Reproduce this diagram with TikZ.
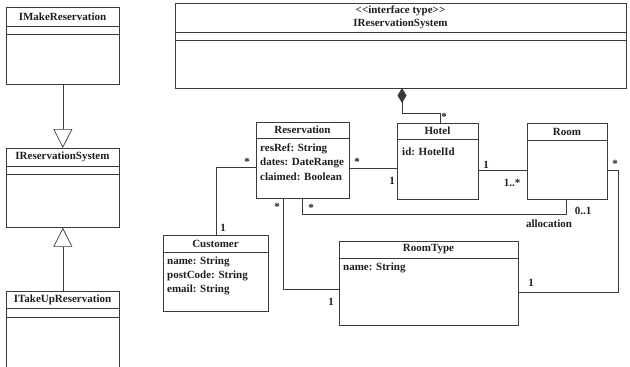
\documentclass[tikz,border=0pt]{standalone}
\usepackage{fontspec}
\setmainfont{Liberation Serif}
\usetikzlibrary{arrows.meta}
\definecolor{linec}{HTML}{3A3A3A}
\definecolor{textc}{HTML}{1E1E1E}
\newcommand{\umlfont}{\fontsize{11}{12}\selectfont}
\begin{document}
\begin{tikzpicture}[x=1pt,y=-1pt,
  every node/.style={text=textc},
  classbox/.style={draw=linec, line width=0.7pt, anchor=north west, inner sep=0pt},
  ttl/.style={font=\umlfont\bfseries, inner sep=0pt},
  attr/.style={font=\umlfont\bfseries, anchor=west, inner sep=0pt},
  mult/.style={font=\umlfont\bfseries, inner sep=0pt},
  conn/.style={draw=linec, line width=0.7pt},
  gen/.style={conn, -{Triangle[open, length=19pt, width=19pt]}},
  comp/.style={conn, {Diamond[fill=linec, length=15pt, width=9pt]}-}
]
\useasboundingbox (0,0) rectangle (630,367);
\fill[white] (0,0) rectangle (630,367);

% ---- interface boxes on the left ----
\node[classbox, minimum width=113pt, minimum height=77pt] (imr) at (6,7) {};
\draw[conn] (6,26) -- (119,26) (6,34) -- (119,34);
\node[ttl] (imrT) at (62.5,16.5) {IMakeReservation};

\node[classbox, minimum width=113pt, minimum height=79pt] (irs) at (6,148) {};
\draw[conn] (6,166) -- (119,166) (6,174) -- (119,174);
\node[ttl] (irsT) at (62.5,157) {IReservationSystem};

\begin{scope}
\clip (0,0) rectangle (630,367);
\node[classbox, minimum width=113pt, minimum height=90pt] (itur) at (6,291) {};
\end{scope}
\draw[conn] (6,308) -- (119,308) (6,317) -- (119,317);
\node[ttl] (iturT) at (62.5,299.5) {ITakeUpReservation};

\draw[gen] (imr.south) -- (irs.north);
\draw[gen] (itur.north) -- (irs.south);

% ---- system interface type ----
\node[classbox, minimum width=451pt, minimum height=85pt] (sys) at (175,3) {};
\draw[conn] (175,32) -- (626,32) (175,40) -- (626,40);
\node[ttl] (sysS) at (400.5,11) {{<}{<}interface type{>}{>}};
\node[ttl] (sysT) at (400.5,24) {IReservationSystem};

% ---- Reservation ----
\node[classbox, minimum width=93pt, minimum height=76pt] (res) at (256,122) {};
\draw[conn] (256,138) -- (349,138);
\node[ttl] (resT) at (302.5,130) {Reservation};
\node[attr] (resA) at (260,149) {resRef: String};
\node[attr] (resB) at (260,163) {dates: DateRange};
\node[attr] (resC) at (260,177) {claimed: Boolean};

% ---- Hotel ----
\node[classbox, minimum width=81pt, minimum height=76pt] (hotel) at (397,123) {};
\draw[conn] (397,139) -- (478,139);
\node[ttl] (hotelT) at (437.5,131) {Hotel};
\node[attr] (hotelA) at (402,152) {id: HotelId};

% ---- Room ----
\node[classbox, minimum width=80pt, minimum height=76pt] (room) at (527,123) {};
\draw[conn] (527,140) -- (607,140);
\node[ttl] (roomT) at (567,131.5) {Room};

% ---- Customer ----
\node[classbox, minimum width=105pt, minimum height=76pt] (cust) at (163,235) {};
\draw[conn] (163,252) -- (268,252);
\node[ttl] (custT) at (215.5,243.5) {Customer};
\node[attr] (custA) at (167,262) {name: String};
\node[attr] (custB) at (167,276) {postCode: String};
\node[attr] (custC) at (167,290) {email: String};

% ---- RoomType ----
\node[classbox, minimum width=179pt, minimum height=84pt] (rtype) at (339,241) {};
\draw[conn] (339,258) -- (518,258);
\node[ttl] (rtypeT) at (428.5,249.5) {RoomType};
\node[attr] (rtypeA) at (343,268) {name: String};

% ---- composition: system owns hotels ----
\coordinate (dA) at (402,88);
\coordinate (hIn) at (440,123);
\draw[comp] (dA) -- (402,113) -| (hIn);
\node[mult] (mH) at (444,117) {*};

% ---- associations ----
\draw[conn] (hotel.east |- 0,170) -- (room.west |- 0,170);
\node[mult] (mHR1) at (486,165) {1};
\node[mult] (mHR2) at (512,183) {1..*};

\draw[conn] (res.east |- 0,168) -- (hotel.west |- 0,168);
\node[mult] (mRH1) at (357,162) {*};
\node[mult] (mRH2) at (392,181) {1};

\draw[conn] (res.west |- 0,167) -| (cust.north -| 216,0);
\node[mult] (mRC1) at (247,162) {*};
\node[mult] (mRC2) at (223,228) {1};

\draw[conn] (res.south -| 283,0) |- (rtype.west |- 0,289);
\node[mult] (mRT1) at (277,207) {*};
\node[mult] (mRT2) at (331,302) {1};

\draw[conn] (room.south -| 566,0) |- (302,214) -- (res.south -| 302,0);
\node[mult] (mAl1) at (311,208) {*};
\node[mult] (mAl2) at (583,211) {0..1};
\node[mult] (mAl3) at (549,224) {allocation};

\draw[conn] (room.east |- 0,170) -- (618,170) |- (rtype.east |- 0,292);
\node[mult] (mRR1) at (615,164) {*};
\node[mult] (mRR2) at (531,283) {1};
\end{tikzpicture}
\end{document}
